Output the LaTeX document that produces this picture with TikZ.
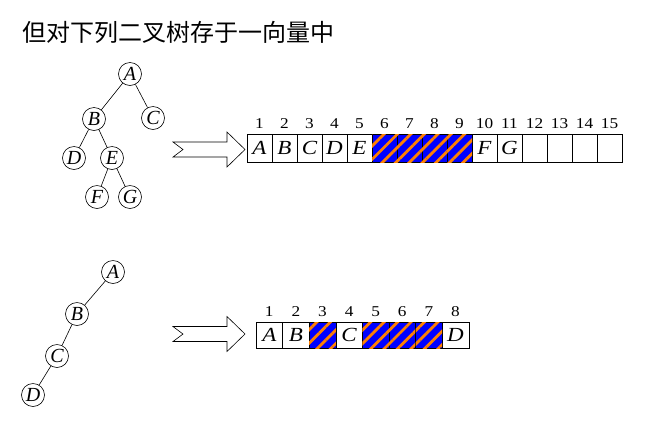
\documentclass[tikz,border=0pt]{standalone}
\usepackage{fontspec}
\setmainfont{Liberation Serif}
\newfontfamily\cjk{Noto Sans CJK SC}
\newfontfamily\widefont[FakeStretch=1.15]{Liberation Serif}
\usetikzlibrary{positioning, patterns.meta}

\tikzset{
  tnode/.style={draw, circle, minimum size=23pt, inner sep=0pt,
    font=\fontsize{20}{20}\selectfont\itshape},
  cell/.style={draw, minimum width=25pt, minimum height=28pt, inner sep=0pt,
    font=\widefont\fontsize{20}{20}\selectfont\itshape},
  hole/.style={draw, fill=blue, inner sep=0pt,
    postaction={pattern={Lines[angle=45, distance=9.5pt, line width=2.8pt]},
      pattern color=orange}},
  idx/.style={anchor=south, inner sep=0pt, yshift=5pt,
    font=\widefont\fontsize{15}{15}\selectfont},
  pics/fatarrow/.style={code={
    \draw[line width=0.6pt] (0,-7.5) -- (54,-7.5) -- (54,-17.5) -- (72,0)
      -- (54,17.5) -- (54,7.5) -- (0,7.5) -- (10,0) -- cycle;
  }}
}

\begin{document}
\begin{tikzpicture}[x=1pt, y=-1pt, line width=0.6pt]
  \useasboundingbox (0,0) rectangle (648,424);

  % Titel
  \node[anchor=west, inner sep=0pt, font=\cjk\fontsize{24}{24}\selectfont]
    (title) at (22,32) {但对下列二叉树存于一向量中};

  % Baum 1
  \node[tnode] (a1) at (130,74) {A};
  \node[tnode] (b1) at (94,119) {B};
  \node[tnode] (c1) at (153,118) {C};
  \node[tnode] (d1) at (74,158) {D};
  \node[tnode] (e1) at (112,158) {E};
  \node[tnode] (f1) at (97,197) {F};
  \node[tnode] (g1) at (130,197) {G};
  \draw (a1) -- (b1);
  \draw (a1) -- (c1);
  \draw (b1) -- (d1);
  \draw (b1) -- (e1);
  \draw (e1) -- (f1);
  \draw (e1) -- (g1);

  \pic at (173,149.5) {fatarrow};

  % Vektor 1
  \foreach \i/\lab in {1/A,2/B,3/C,4/D,5/E,6/{},7/{},8/{},9/{},
                       10/F,11/G,12/{},13/{},14/{},15/{}} {
    \node[cell] (t\i) at ({234.5+25*\i},148) {\lab};
    \node[idx] at (t\i.north) {\i};
  }
  \foreach \i in {6,...,9}
    \node[hole, minimum width=25pt, minimum height=28pt] at (t\i) {};

  % Baum 2
  \node[tnode] (a2) at (113,272) {A};
  \node[tnode] (b2) at (77,314) {B};
  \node[tnode] (c2) at (57,356) {C};
  \node[tnode] (d2) at (33,395) {D};
  \draw (a2) -- (b2);
  \draw (b2) -- (c2);
  \draw (c2) -- (d2);

  \pic at (173,334) {fatarrow};

  % Vektor 2
  \foreach \i/\lab in {1/A,2/B,3/{},4/C,5/{},6/{},7/{},8/D} {
    \node[cell, minimum width=26.6pt, minimum height=26pt]
      (u\i) at ({242.7+26.6*\i},335) {\lab};
    \node[idx] at (u\i.north) {\i};
  }
  \foreach \i in {3,5,6,7}
    \node[hole, minimum width=26.6pt, minimum height=26pt] at (u\i) {};
\end{tikzpicture}
\end{document}
